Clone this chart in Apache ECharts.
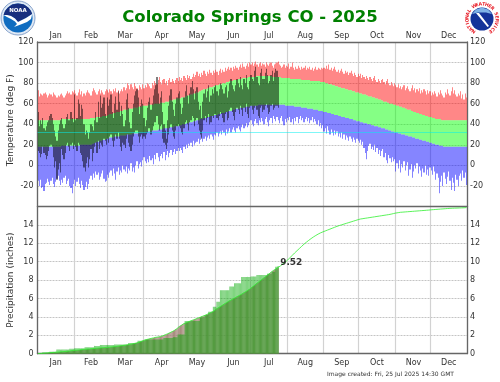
<!DOCTYPE html>
<html><head><meta charset="utf-8">
<script src="https://cdn.jsdelivr.net/npm/echarts@6/dist/echarts.min.js"></script>
<style>html,body{margin:0;padding:0;background:#fff}#c{width:500px;height:382px;filter:blur(.35px)}</style>
</head><body><div id="c"></div>
<script>
const monthNames=['Jan','Feb','Mar','Apr','May','Jun','Jul','Aug','Sep','Oct','Nov','Dec'];
const monthLengths=[31,28,31,30,31,30,31,31,30,31,30,31];
const chartTitle='Colorado Springs CO - 2025';
const footerText='Image created: Fri, 25 Jul 2025 14:30 GMT';
const temperatureTicks=[-40,120];
const precipTicks=[0,16];
const freezingLine=32;

const recordHigh=[
73,67,70,69,68,70,71,69,66,68,70,69,67,71,69,68,66,68,67,69,70,68,66,68,70,72,70,71,69,72,71,
73,70,68,71,74,69,72,67,70,68,71,73,71,70,68,72,75,73,71,69,72,74,70,73,71,69,72,74,
73,71,74,72,70,74,72,75,71,73,70,72,74,72,76,73,75,80,78,74,79,76,74,80,77,75,73,78,76,74,79,
75,78,76,80,79,77,75,80,78,82,80,79,83,86,81,79,83,84,80,82,78,83,85,81,84,82,80,83,85,82,
86,83,85,82,87,85,83,88,85,87,84,86,89,86,88,91,87,89,86,90,88,92,89,87,91,89,93,90,88,92,90,
93,91,88,92,94,90,93,91,95,92,94,96,93,95,92,96,94,97,95,93,96,98,95,99,96,94,97,99,96,100,
98,100,97,99,101,98,96,99,100,97,99,98,96,100,98,97,99,100,97,95,98,99,100,101,98,97,95,96,98,95,97,
96,99,94,96,100,95,93,96,94,97,95,93,96,94,95,97,93,95,94,96,93,95,92,94,96,93,95,94,93,95,94,
95,94,97,94,98,93,95,92,94,96,93,91,93,90,92,94,91,89,92,90,91,88,90,92,89,87,90,88,86,89,
87,89,85,88,86,84,87,85,83,86,84,82,85,87,83,81,84,82,80,83,84,81,79,82,84,80,78,81,79,77,80,
78,76,79,75,77,74,76,78,73,75,77,74,72,75,78,73,75,71,74,72,75,70,73,71,74,72,69,73,70,72,
68,71,69,72,70,67,71,69,73,70,68,66,71,69,74,70,68,72,76,70,73,69,67,70,68,72,65,69,64,70,66];

const recordLow=[
-15,-20,-14,-22,-21,-25,-18,-17,-13,-16,-19,-15,-12,-18,-21,-16,-13,-10,-15,-19,-14,-17,-12,-10,-18,-15,-13,-20,-22,-27,-18,
-14,-20,-16,-12,-18,-22,-15,-19,-24,-21,-16,-23,-18,-13,-10,-14,-8,-12,-6,-9,-7,-14,-11,-8,-5,-13,-16,-15,
-9,-12,-7,-5,-10,-3,-8,-14,-6,-2,-9,-5,-7,0,-4,-6,-1,-8,-3,-5,2,-6,-2,-7,0,4,-3,1,3,-1,5,
8,4,2,6,3,9,5,7,1,10,6,12,8,4,9,11,7,13,5,10,14,8,12,15,10,13,16,11,14,17,
14,17,15,12,18,16,20,17,21,19,22,18,24,20,22,23,26,21,25,27,23,26,28,24,27,29,26,30,28,25,30,
29,32,28,31,33,30,34,32,29,35,31,33,36,32,35,37,34,32,36,38,35,33,37,40,36,38,41,37,39,42,
44,40,38,43,45,41,39,44,42,46,43,40,45,47,42,38,44,46,41,48,45,43,47,44,41,46,48,43,39,45,42,
46,44,47,42,45,40,46,43,47,41,45,48,44,46,42,45,47,43,46,41,44,47,42,45,43,40,44,38,41,36,39,
33,36,31,38,34,30,35,32,29,34,30,33,28,31,27,32,26,30,25,29,27,24,28,26,23,27,25,22,26,24,
22,25,20,23,17,12,6,14,19,21,16,18,15,20,13,17,11,15,9,14,16,8,12,5,2,10,7,3,8,4,6,
-6,2,-3,5,-7,1,-2,4,-5,0,3,-10,-4,1,-12,-6,0,-3,2,-8,-1,-5,-11,-3,-7,0,-9,-4,-10,-2,
-5,-9,-1,-6,-14,-8,-12,-27,-16,-10,-20,-7,-13,-18,-11,-6,-15,-24,-12,-17,-25,-9,-14,-20,-10,-8,-15,-5,-12,-7,-19];

const normalHigh=[
44,44,44,44,44,44,44,44,44,44,44,44,44,44,44,44,44,44,44,44,45,45,45,45,45,45,45,45,45,45,45,
45,45,45,45,45,45,45,45,45,45,45,45,45,45,46,46,46,46,46,47,47,47,47,47,48,48,48,48,
49,49,50,50,50,51,51,51,52,52,52,53,53,53,54,54,54,54,55,55,55,55,56,56,56,56,57,57,57,57,58,
58,58,58,58,59,59,59,59,59,60,60,60,60,60,61,61,61,61,62,62,62,62,63,63,63,64,64,64,65,65,
65,65,66,66,66,67,67,68,68,68,69,69,70,70,70,71,71,72,72,73,73,74,74,74,75,75,76,76,76,77,77,
78,78,78,79,79,79,80,80,80,81,81,81,82,82,82,83,83,83,83,84,84,84,84,85,85,85,85,85,86,86,
86,86,86,86,86,87,87,87,87,87,87,87,87,87,87,87,87,87,86,86,86,86,86,86,86,86,85,85,85,85,85,
85,85,85,84,84,84,84,84,84,84,84,84,83,83,83,83,83,83,83,83,82,82,82,82,82,82,82,82,81,81,81,
81,80,80,80,79,79,79,78,78,78,77,77,76,76,76,75,75,75,74,74,74,73,73,73,72,72,72,71,71,71,
70,70,70,69,69,69,68,68,67,67,67,66,66,66,65,65,64,64,64,63,63,62,62,62,61,61,60,60,60,59,59,
59,58,58,57,57,57,56,56,55,55,54,54,54,53,53,52,52,52,51,51,50,50,50,49,49,48,48,48,47,47,
47,46,46,46,45,45,45,45,45,44,44,44,44,44,44,44,44,44,44,44,44,44,44,44,44,44,44,44,44,44,44];

const normalLow=[
18,18,18,18,18,18,18,18,18,18,18,18,18,18,18,18,18,18,18,18,19,19,19,19,19,19,19,19,19,19,19,
19,19,19,19,19,20,20,20,20,20,20,20,20,20,20,21,21,22,22,23,23,24,24,24,25,25,25,26,
26,26,27,27,27,27,28,28,28,28,28,29,29,29,29,29,30,30,30,30,30,31,31,31,31,31,31,32,32,32,32,
32,32,33,33,33,33,33,34,34,34,34,34,35,35,35,35,35,36,36,36,36,36,37,37,37,37,38,38,38,38,
39,39,39,40,40,40,41,41,41,42,42,42,43,43,43,44,44,44,45,45,45,46,46,46,47,47,47,48,48,48,49,
49,49,50,50,50,51,51,51,52,52,52,53,53,53,54,54,54,55,55,55,55,56,56,56,56,57,57,57,57,57,
58,58,58,58,58,58,59,59,59,59,59,59,59,59,59,59,59,59,59,59,59,59,59,59,59,59,59,59,59,58,58,
58,58,58,58,58,58,57,57,57,57,57,57,56,56,56,56,56,55,55,55,55,55,54,54,54,54,53,53,53,53,53,
52,52,52,51,51,51,50,50,50,49,49,49,48,48,48,47,47,47,46,46,46,46,45,45,45,44,44,44,43,43,
43,42,42,42,41,41,41,40,40,40,39,39,39,38,38,38,37,37,37,36,36,36,35,35,35,34,34,33,33,33,32,
32,32,31,31,31,30,30,30,29,29,29,28,28,28,27,27,27,26,26,26,25,25,25,24,24,24,23,23,23,22,
22,21,21,21,20,20,20,19,19,19,19,18,18,18,18,18,18,18,18,18,18,18,18,18,18,18,18,18,18,18,18];

const observedHigh=[
52,38,44,40,46,36,34,38,42,44,48,50,46,40,34,28,24,34,40,44,46,40,36,40,47,50,44,44,52,46,42,
69,44,46,64,60,48,59,55,40,30,34,32,26,32,40,38,34,44,52,42,62,46,68,56,60,66,50,46,
66,58,64,69,52,46,60,67,54,72,62,48,58,50,38,44,64,70,56,42,36,52,60,68,72,74,66,50,58,64,60,
46,38,44,56,62,66,54,60,68,74,78,86,70,60,66,72,52,40,34,26,44,58,68,74,62,54,48,60,66,70,
72,60,50,56,66,72,78,68,60,70,76,82,74,64,72,76,62,54,58,46,62,70,74,66,72,78,62,68,74,70,76,
78,72,68,74,80,78,74,70,76,78,66,72,80,84,78,74,72,78,84,80,76,86,78,74,84,80,88,76,74,82,
88,84,82,92,96,86,80,78,90,94,84,84,90,94,88,80,82,88,92,82,90,94,92,86];

const observedLow=[
14,12,8,11,18,12,10,6,9,14,19,20,18,8,-2,4,-14,-4,2,-7,16,10,6,12,20,22,18,14,20,22,16,
20,18,14,22,20,12,10,4,-2,-6,2,8,-2,6,16,4,12,18,22,12,24,16,22,20,18,26,24,20,
26,22,28,30,24,18,24,30,26,32,26,18,14,22,20,17,26,30,22,18,14,20,28,32,34,34,28,22,28,30,26,
28,26,30,32,36,36,30,34,38,42,42,48,40,34,38,40,26,22,20,16,22,30,36,40,34,28,26,34,38,40,
38,36,32,30,36,42,44,40,34,42,44,48,46,38,44,46,40,34,30,26,34,44,48,42,46,50,40,42,48,46,50,
50,46,44,48,52,50,46,42,50,52,44,46,54,56,52,48,44,52,56,54,50,58,54,48,56,52,60,50,46,56,
58,54,50,56,58,54,48,46,56,58,52,54,58,60,56,50,52,58,60,54,56,58,58,56];

const normalPrecip=[
.01,.02,.03,.04,.05,.06,.07,.08,.09,.10,.11,.12,.13,.14,.15,.16,.17,.18,.19,.20,.21,.22,.23,.24,.25,.27,.28,.30,.32,.34,.35,
.36,.37,.38,.40,.41,.42,.44,.45,.46,.48,.49,.50,.51,.52,.53,.55,.56,.57,.58,.60,.61,.62,.63,.64,.65,.66,.67,.68,
.69,.70,.71,.73,.74,.75,.77,.78,.80,.82,.84,.85,.87,.89,.91,.93,.95,.97,.99,1.01,1.03,1.06,1.09,1.12,1.15,1.18,1.22,1.26,1.30,1.35,1.40,
1.45,1.49,1.53,1.57,1.60,1.63,1.66,1.69,1.72,1.75,1.78,1.80,1.82,1.84,1.86,1.90,1.95,2.0,2.05,2.10,2.16,2.22,2.28,2.34,2.40,2.47,2.55,2.63,2.72,2.82,
2.95,3.03,3.11,3.19,3.27,3.33,3.38,3.43,3.48,3.53,3.58,3.63,3.68,3.73,3.78,3.83,3.88,3.93,3.98,4.03,4.08,4.13,4.18,4.23,4.30,4.36,4.42,4.48,4.55,4.62,4.70,
4.82,4.90,4.98,5.06,5.14,5.22,5.30,5.38,5.46,5.54,5.62,5.70,5.77,5.84,5.91,5.98,6.05,6.12,6.19,6.26,6.33,6.40,6.47,6.55,6.63,6.71,6.79,6.87,6.95,7.03,
7.15,7.25,7.35,7.45,7.55,7.65,7.75,7.85,7.95,8.05,8.15,8.25,8.35,8.45,8.55,8.65,8.75,8.85,8.95,9.05,9.13,9.21,9.29,9.37,9.45,9.55,9.65,9.75,9.85,9.95,10.05,
10.17,10.30,10.43,10.56,10.69,10.82,10.95,11.07,11.19,11.31,11.43,11.55,11.67,11.79,11.91,12.02,12.12,12.22,12.32,12.42,12.51,12.60,12.69,12.77,12.85,12.93,13.00,13.07,13.13,13.19,13.24,
13.29,13.34,13.39,13.44,13.49,13.54,13.59,13.64,13.69,13.74,13.79,13.84,13.89,13.93,13.97,14.01,14.05,14.09,14.13,14.17,14.21,14.25,14.29,14.33,14.37,14.41,14.45,14.49,14.53,14.57,
14.62,14.64,14.66,14.68,14.70,14.72,14.74,14.76,14.78,14.80,14.82,14.84,14.86,14.88,14.90,14.92,14.94,14.96,14.98,15.00,15.02,15.04,15.06,15.08,15.10,15.12,15.14,15.17,15.20,15.23,15.26,
15.29,15.31,15.33,15.35,15.37,15.38,15.39,15.40,15.41,15.42,15.43,15.44,15.45,15.46,15.47,15.48,15.49,15.50,15.51,15.52,15.53,15.54,15.55,15.56,15.57,15.58,15.59,15.60,15.61,15.62,
15.64,15.65,15.66,15.67,15.68,15.69,15.70,15.71,15.72,15.73,15.74,15.75,15.76,15.77,15.78,15.79,15.80,15.80,15.81,15.81,15.82,15.82,15.83,15.83,15.84,15.84,15.85,15.85,15.86,15.87,15.88];

const observedPrecip=[
.05,.05,.05,.05,.12,.12,.12,.12,.12,.12,.2,.2,.2,.2,.2,.2,.45,.45,.45,.45,.45,.45,.45,.45,.45,.45,.45,.55,.55,.55,.55,
.58,.58,.58,.58,.58,.58,.58,.58,.58,.7,.7,.7,.7,.7,.7,.7,.7,.85,.85,.85,.85,.85,.95,.95,.95,.95,.95,.95,
.95,.95,.95,.95,.95,.95,1,1,1,1,1,1,1,1,1,1,1,1,1.15,1.15,1.15,1.15,1.15,1.15,1.15,1.15,1.4,1.4,1.4,1.4,1.4,
1.4,1.55,1.55,1.55,1.55,1.55,1.55,1.55,1.55,1.55,1.55,1.55,1.55,1.55,1.55,1.55,1.55,1.7,1.7,1.7,1.7,1.7,1.7,1.7,1.7,1.8,1.8,1.8,1.8,2.1,
2.1,2.1,2.1,2.1,2.1,3.55,3.55,3.55,3.55,3.55,3.55,3.55,3.55,3.55,3.55,3.55,3.55,3.55,3.95,3.95,3.95,3.95,4.2,4.2,4.2,4.55,4.55,4.55,4.55,5.1,5.1,
5.1,5.65,5.65,5.65,6.9,6.9,6.9,6.9,6.9,6.9,6.9,6.9,7.3,7.3,7.3,7.3,7.65,7.65,7.65,7.65,7.65,7.65,8.35,8.35,8.35,8.35,8.35,8.35,8.35,8.35,
8.4,8.4,8.4,8.4,8.4,8.55,8.55,8.55,8.55,8.55,8.55,8.55,8.55,8.55,8.7,8.7,8.7,8.7,8.9,8.9,8.9,9.45,9.45,9.52];

[recordHigh,recordLow,normalHigh,normalLow,normalPrecip].forEach((a,i)=>{if(a.length!==365)throw new Error('len '+i+' '+a.length)});
[observedHigh,observedLow,observedPrecip].forEach((a,i)=>{if(a.length!==205)throw new Error('obslen '+i+' '+a.length)});

const FONT='"DejaVu Sans"';
const BORDER={show:true,onZero:false,lineStyle:{color:'#666',width:1.3}};
const days=[],monthStarts=[],monthMids=[];
monthLengths.forEach((n,m)=>{monthStarts.push(days.length);monthMids.push(days.length+Math.floor(n/2));for(let d=0;d<n;d++)days.push(monthNames[m]);});

function band(name,lows,highs,color,z){
  return {name,type:'custom',xAxisIndex:0,yAxisIndex:0,z,clip:true,silent:true,
    encode:{x:0,y:[1,2]},
    data:lows.map((v,i)=>[i,v,highs[i]]),
    renderItem(params,api){
      const a=api.coord([api.value(0),api.value(1)]),b=api.coord([api.value(0),api.value(2)]);
      const w=api.size([1,0])[0];
      const x0=Math.round(a[0]-w/2),x1=Math.round(a[0]+w/2);
      return {type:'rect',shape:{x:x0,y:b[1],width:x1-x0,height:a[1]-b[1]},style:{fill:color}};
    }};
}
const xAxisBase=(gi,pos)=>({type:'category',gridIndex:gi,position:pos,data:days,boundaryGap:true,
  axisLine:BORDER,axisTick:{show:false},
  axisLabel:{interval:(i)=>monthMids.includes(i),fontFamily:FONT,fontSize:8,color:'#333',margin:pos==='top'?2:5},
  splitLine:{show:true,interval:(i)=>monthStarts.includes(i),lineStyle:{color:'#d2d2d2',width:1.2}}});
const yAxisBase=(gi,pos,min,max,iv,hide,name,namePad)=>({type:'value',gridIndex:gi,position:pos,min,max,interval:iv,
  axisLine:BORDER,axisTick:{show:false},
  name:name||'',nameLocation:'middle',nameGap:22,nameMoveOverlap:false,nameTextStyle:{fontFamily:FONT,fontSize:9,color:'#333',padding:namePad||0},
  axisLabel:{fontFamily:FONT,fontSize:8,color:'#333',margin:pos==='left'?4:3,formatter:v=>hide.includes(v)?'':String(v)},
  splitLine:{show:pos==='left',lineStyle:{color:'#c4c4c4',width:1,type:[2,1]}}});

/* decorative logos */
const logos=[
 {type:'circle',shape:{cx:18,cy:18,r:17},style:{fill:'#dfe9f5',stroke:'#6d8fc0',lineWidth:.8}},
 {type:'circle',shape:{cx:18,cy:18,r:14.6},style:{fill:'#0f6cc0'}},
 {type:'polygon',shape:{points:[[3.6,15],[5,11],[8,7.5],[12,4.6],[18,3.4],[24,4.6],[28.5,7.8],[31,11],[32.2,14],[26,18],[18,22],[15,18.5],[11,16],[7,15]]},style:{fill:'#182f7e'}},
 {type:'polygon',shape:{points:[[3.6,15],[7,15],[11,16],[15,18.5],[18,22],[26,18],[32.2,14],[31,19],[27,22],[22,24],[14,27],[17,24],[15,21.5],[11,19],[7,17]]},style:{fill:'#fff'}},
 {type:'text',x:18,y:10.5,style:{text:'NOAA',fill:'#fff',font:'bold 5.5px "DejaVu Sans"',textAlign:'center',textVerticalAlign:'middle'}},
 {type:'circle',shape:{cx:482,cy:19,r:11.5},style:{fill:'#14339a'}},
 {type:'polygon',shape:{points:[[472,14],[476,9.5],[482,7.5],[488,9.5],[492,14],[486,12.5],[478,12.5]]},style:{fill:'#7fb2e6'}},
 {type:'polygon',shape:{points:[[476,13],[479,13],[489,26],[487.5,27]]},style:{fill:'#fff'}}
];
const ringText='NATIONAL WEATHER SERVICE';
[...ringText].forEach((ch,i)=>{
  const deg=-146+i*(292/(ringText.length-1)),t=deg*Math.PI/180;
  if(ch!==' ')logos.push({type:'text',x:482+14.8*Math.sin(t),y:19-14.8*Math.cos(t),rotation:-t,
    style:{text:ch,fill:'#e8202a',font:'bold 4.6px "DejaVu Sans"',textAlign:'center',textVerticalAlign:'middle'}});
});

const option={
 animation:false,backgroundColor:'#fff',
 title:[
  {text:chartTitle,left:'center',top:4,textStyle:{color:'#008000',fontFamily:FONT,fontWeight:'bold',fontSize:16.5}},
  {text:footerText,left:327,top:371,padding:0,textStyle:{color:'#333',fontFamily:FONT,fontWeight:'normal',fontSize:6}}
 ],
 graphic:logos,
 grid:[
  {left:37.5,top:42,width:429.5,height:164.5,outerBoundsMode:'none',show:false},
  {left:37.5,top:206.5,width:429.5,height:147.2,outerBoundsMode:'none',show:false}
 ],
 xAxis:[xAxisBase(0,'top'),xAxisBase(1,'bottom'),
  {type:'category',gridIndex:1,position:'top',data:days,axisLine:BORDER,axisTick:{show:false},axisLabel:{show:false},splitLine:{show:false}}],
 yAxis:[
  yAxisBase(0,'left',temperatureTicks[0],temperatureTicks[1],20,[-40],'Temperature (deg F)',[0,0,0,8]),
  yAxisBase(0,'right',temperatureTicks[0],temperatureTicks[1],20,[-40]),
  yAxisBase(1,'left',precipTicks[0],precipTicks[1],2,[16],'Precipitation (inches)'),
  yAxisBase(1,'right',precipTicks[0],precipTicks[1],2,[16])
 ],
 series:[
  band('Record high',normalHigh,recordHigh,'rgba(255,0,0,.47)',2),
  band('Normal range',normalLow,normalHigh,'rgba(0,255,0,.48)',2),
  band('Record low',recordLow,normalLow,'rgba(0,0,255,.48)',2),
  band('Observed',observedLow,observedHigh,'rgba(0,0,0,.5)',3),
  {name:'Freezing',type:'line',xAxisIndex:0,yAxisIndex:0,z:4,data:[],
   markLine:{silent:true,symbol:'none',label:{show:false},lineStyle:{color:'rgba(0,240,240,.5)',width:1,type:'solid'},data:[{yAxis:freezingLine}]}},
  {name:'Normal precip fill',type:'bar',xAxisIndex:1,yAxisIndex:2,z:2,barWidth:'100%',barGap:'-100%',
   data:normalPrecip.slice(0,observedPrecip.length),itemStyle:{color:'rgba(160,130,115,.9)'}},
  {name:'Observed precip',type:'bar',xAxisIndex:1,yAxisIndex:2,z:3,barWidth:'100%',barGap:'-100%',
   data:observedPrecip,itemStyle:{color:'rgba(0,170,0,.5)'}},
  {name:'Normal precip',type:'line',xAxisIndex:1,yAxisIndex:2,z:4,showSymbol:false,symbol:'none',
   data:normalPrecip,lineStyle:{color:'rgba(50,240,50,.8)',width:1}},
  {name:'Total',type:'scatter',xAxisIndex:1,yAxisIndex:2,z:5,symbolSize:0,
   data:[[observedPrecip.length-1,observedPrecip[observedPrecip.length-1]]],
   label:{show:true,position:'right',distance:1,offset:[1,-3],formatter:p=>p.value[1].toFixed(2),
     fontFamily:FONT,fontWeight:'bold',fontSize:9,color:'#000'}}
 ]
};
echarts.init(document.getElementById('c'),null,{renderer:'canvas'}).setOption(option);
</script></body></html>
